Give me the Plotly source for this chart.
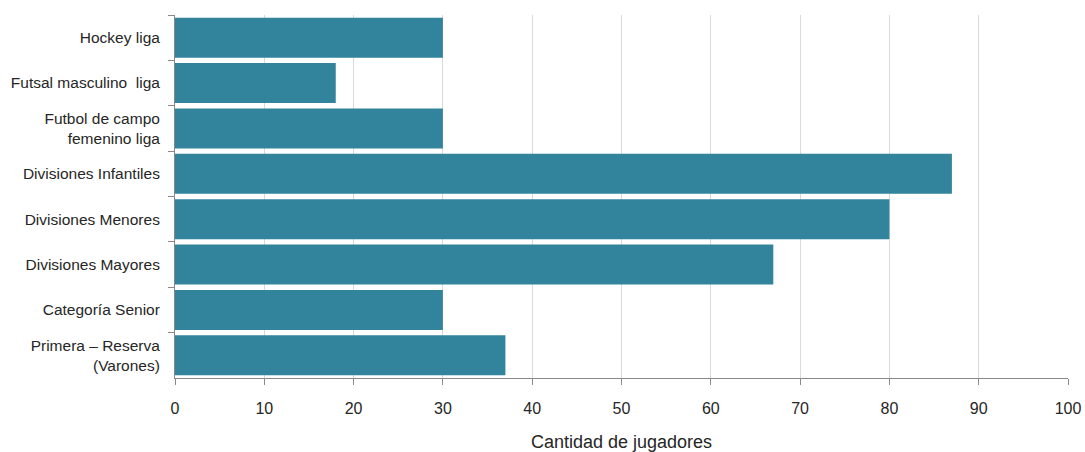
import plotly.graph_objects as go

categorias = [
    "Hockey liga",
    "Futsal masculino  liga",
    "Futbol de campo<br>femenino liga",
    "Divisiones Infantiles",
    "Divisiones Menores",
    "Divisiones Mayores",
    "Categoría Senior",
    "Primera – Reserva<br>(Varones)",
]
jugadores = [30, 18, 30, 87, 80, 67, 30, 37]
x_ticks = [0, 10, 20, 30, 40, 50, 60, 70, 80, 90, 100]

fig = go.Figure(go.Bar(
    x=jugadores, y=categorias, orientation="h",
    marker=dict(color="#31849B", line=dict(width=0)),
    width=0.88,
))

fig.update_layout(
    width=1085, height=452,
    margin=dict(l=175, r=17, t=15, b=74),
    paper_bgcolor="white", plot_bgcolor="white",
    font=dict(family="Liberation Sans, Arial, sans-serif", size=16, color="#262626"),
    showlegend=False,
)
fig.update_xaxes(
    range=[0, 100], tickvals=x_ticks, ticks="outside", ticklen=6, tickcolor="#888888",
    showline=True, linecolor="#888888", linewidth=1,
    showgrid=True, gridcolor="#D9D9D9", gridwidth=1,
    zeroline=False, automargin=False, ticklabelstandoff=10,
    title=dict(text="Cantidad de jugadores", font=dict(size=18), standoff=22),
    tickfont=dict(size=16),
)
fig.update_yaxes(
    categoryorder="array", categoryarray=categorias, autorange="reversed",
    ticks="outside", ticklen=6, tickcolor="#888888", tickson="boundaries",
    showline=True, linecolor="#888888", linewidth=1,
    showgrid=False, tickfont=dict(size=15.5), automargin=False, ticklabelstandoff=11,
)

fig.write_html(
    "out.html",
    config={"displayModeBar": False},
    post_script="document.body.style.margin='0';document.body.style.overflow='hidden';",
)
